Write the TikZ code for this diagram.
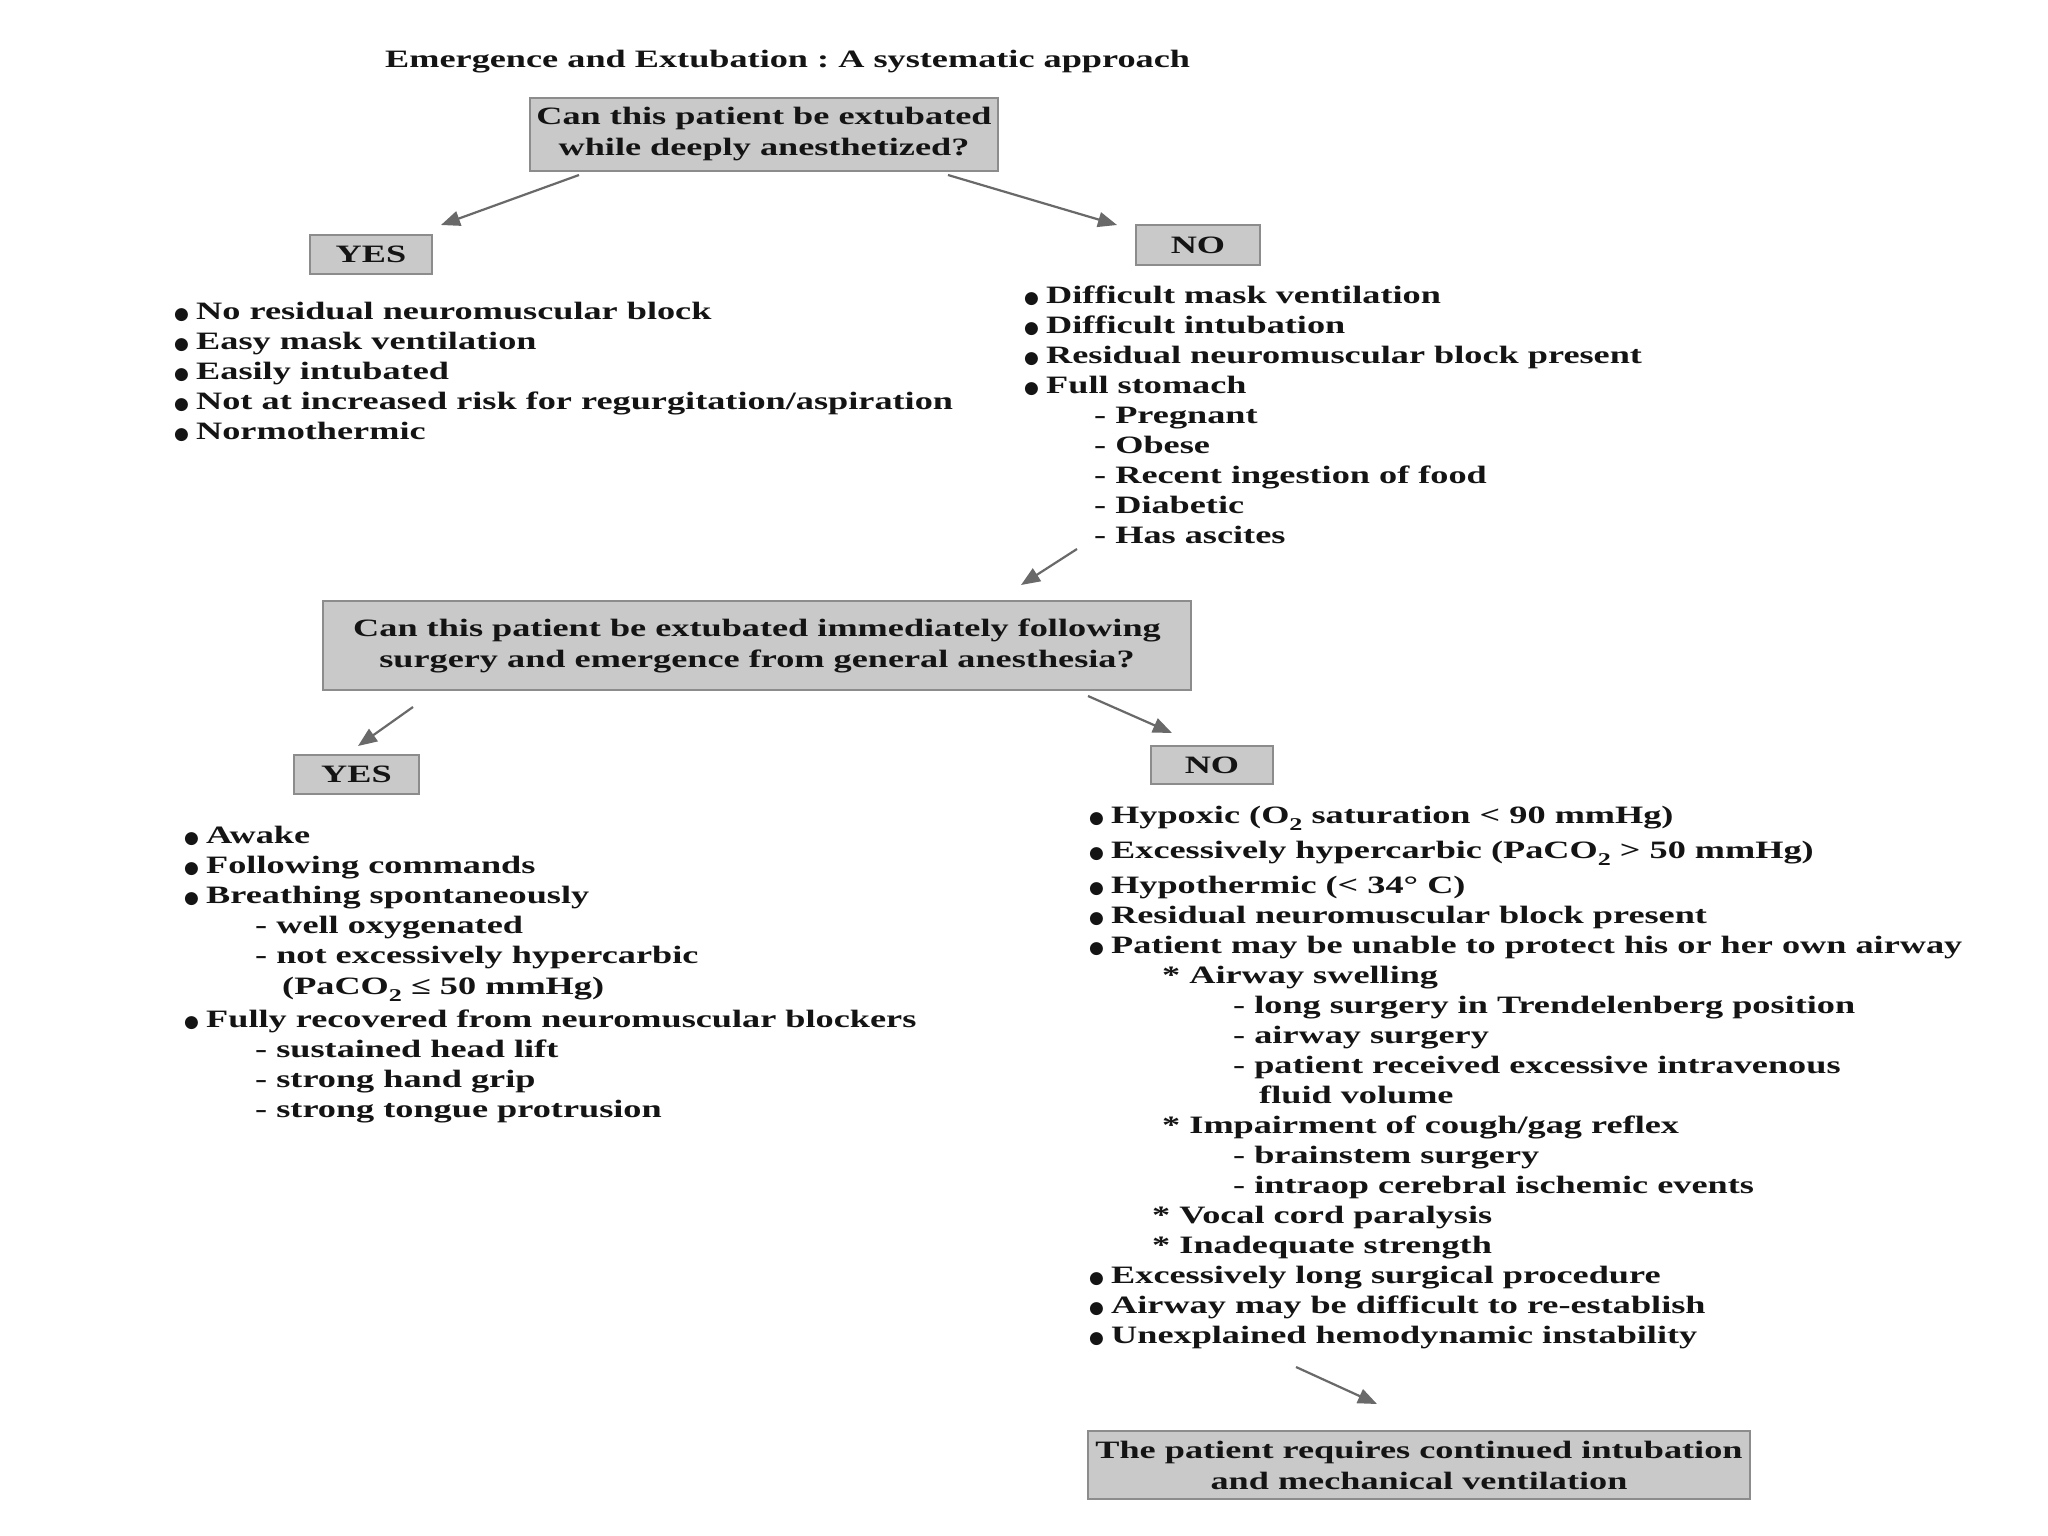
\documentclass[tikz,border=0pt]{standalone}
\usepackage{fontspec}
\setmainfont{Liberation Serif}[FakeStretch=1.45]
\newfontfamily\dv{DejaVu Sans}
\usetikzlibrary{arrows.meta}
\frenchspacing
\definecolor{boxfill}{RGB}{201,201,201}
\definecolor{boxline}{RGB}{140,140,140}
\definecolor{arrc}{RGB}{105,105,105}
\definecolor{textc}{RGB}{20,20,20}
\newcommand\bl{\makebox[22pt][l]{\raisebox{0pt}{\dv\fontsize{17}{17}\selectfont ●}}}
\newcommand\ind[1]{\hspace*{#1pt}}
\newcommand\topstrut{\rule{0pt}{20pt}}
\newcommand\subtwo{\raisebox{-7pt}{\fontsize{18}{18}\selectfont 2}}
\tikzset{
  txt/.style={inner sep=0pt, text=textc, font=\fontsize{25}{30}\selectfont\bfseries},
  lst/.style={txt, align=left, anchor=north west},
  qbox/.style={draw=boxline, fill=boxfill, line width=2pt, inner sep=0pt, align=center,
     text=textc, font=\fontsize{25}{31}\selectfont\bfseries},
  arr/.style={draw=arrc, line width=2.2pt, -{Triangle[length=19pt,width=15pt]}, arrc}
}
\begin{document}
\begin{tikzpicture}[x=1pt,y=-1pt]
\useasboundingbox[fill=white] (0,0) rectangle (2048,1536);

\node[txt, anchor=base west] (title) at (385,68) {Emergence and Extubation : A systematic approach};

\node[qbox, minimum width=468pt, minimum height=73pt] (q1) at (764,134.5) {Can this patient be extubated\\while deeply anesthetized?};
\node[qbox, minimum width=122pt, minimum height=39pt] (yes1) at (371,254.5) {YES};
\node[qbox, minimum width=124pt, minimum height=40pt] (no1) at (1198,245) {NO};

\node[lst] (yl1) at (174,299) {\topstrut\bl No residual neuromuscular block\\
\bl Easy mask ventilation\\
\bl Easily intubated\\
\bl Not at increased risk for regurgitation/aspiration\\
\bl Normothermic};

\node[lst] (nl1) at (1024,283) {\topstrut\bl Difficult mask ventilation\\
\bl Difficult intubation\\
\bl Residual neuromuscular block present\\
\bl Full stomach\\
\ind{70}- Pregnant\\
\ind{70}- Obese\\
\ind{70}- Recent ingestion of food\\
\ind{70}- Diabetic\\
\ind{70}- Has ascites};

\node[qbox, minimum width=868pt, minimum height=89pt] (q2) at (757,645.5) {Can this patient be extubated immediately following\\surgery and emergence from general anesthesia?};
\node[qbox, minimum width=125pt, minimum height=39pt] (yes2) at (356.5,774.5) {YES};
\node[qbox, minimum width=122pt, minimum height=38pt] (no2) at (1212,765) {NO};

\node[lst] (yl2) at (184,823) {\topstrut\bl Awake\\
\bl Following commands\\
\bl Breathing spontaneously\\
\ind{71}- well oxygenated\\
\ind{71}- not excessively hypercarbic\\[1pt]
\ind{98}(PaCO\subtwo\ ≤ 50 mmHg)\\[3pt]
\bl Fully recovered from neuromuscular blockers\\
\ind{71}- sustained head lift\\
\ind{71}- strong hand grip\\
\ind{71}- strong tongue protrusion};

\node[lst] (nl2) at (1089,803) {\topstrut\bl Hypoxic (O\subtwo\ saturation {<} 90 mmHg)\\[5pt]
\bl Excessively hypercarbic (PaCO\subtwo\ {>} 50 mmHg)\\[5pt]
\bl Hypothermic ({<} 34° C)\\
\bl Residual neuromuscular block present\\
\bl Patient may be unable to protect his or her own airway\\
\ind{73}* Airway swelling\\
\ind{144}- long surgery in Trendelenberg position\\
\ind{144}- airway surgery\\
\ind{144}- patient received excessive intravenous\\
\ind{170}fluid volume\\
\ind{73}* Impairment of cough/gag reflex\\
\ind{144}- brainstem surgery\\
\ind{144}- intraop cerebral ischemic events\\
\ind{63}* Vocal cord paralysis\\
\ind{63}* Inadequate strength\\
\bl Excessively long surgical procedure\\
\bl Airway may be difficult to re-establish\\
\bl Unexplained hemodynamic instability};

\node[qbox, minimum width=662pt, minimum height=68pt] (fin) at (1419,1465) {The patient requires continued intubation\\and mechanical ventilation};

\coordinate (a1s) at (579,175); \coordinate (a1e) at (441,225);
\coordinate (a2s) at (948,175); \coordinate (a2e) at (1117,225);
\coordinate (a3s) at (1077,549); \coordinate (a3e) at (1021,585);
\coordinate (a4s) at (413,707); \coordinate (a4e) at (358,746);
\coordinate (a5s) at (1088,696); \coordinate (a5e) at (1172,733);
\coordinate (a6s) at (1296,1367); \coordinate (a6e) at (1377,1404);
\draw[arr] (a1s) -- (a1e);
\draw[arr] (a2s) -- (a2e);
\draw[arr] (a3s) -- (a3e);
\draw[arr] (a4s) -- (a4e);
\draw[arr] (a5s) -- (a5e);
\draw[arr] (a6s) -- (a6e);
\end{tikzpicture}
\end{document}
